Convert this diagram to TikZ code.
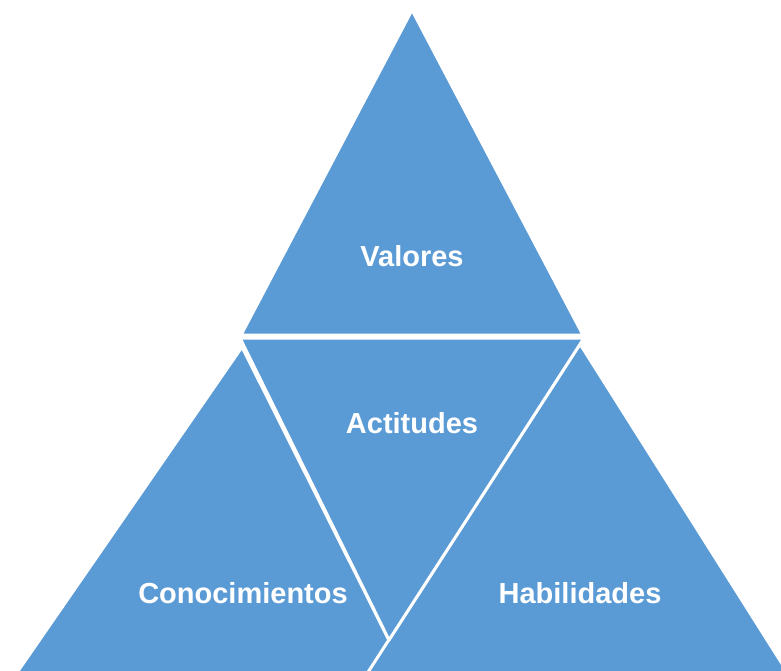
\documentclass[tikz,border=0pt]{standalone}
\usepackage{fontspec}
\setmainfont{Liberation Sans}
\definecolor{segblue}{HTML}{5B9BD5}

\begin{document}
\begin{tikzpicture}[x=1pt,y=-1pt,
    seg/.style={fill=segblue,draw=white,line width=3pt,line join=round},
    lbl/.style={text=white,inner sep=0pt,font=\bfseries\fontsize{29}{34}\selectfont}]
                \useasboundingbox (0,0) rectangle (781,670);
                \clip (0,0) rectangle (781,670);
                % corners of the four triangles
                \coordinate(TopA)at(412, 10);
                \coordinate(TopB)at(241, 335);
                \coordinate(TopC)at(583, 335);
                \coordinate(MidA)at(240, 338);
                \coordinate(MidB)at(584, 338);
                \coordinate(MidC)at(389, 640);
                \coordinate(LeftA)at(242, 347);
                \coordinate(LeftB)at(-2, 700);
                \coordinate(LeftC)at(419, 700);
                \coordinate(RightA)at(580, 344);
                \coordinate(RightB)at(350, 700);
                \coordinate(RightC)at(805, 700);
                \draw[seg] (TopA) -- (TopB) -- (TopC) -- cycle;
                \draw[seg] (LeftA) -- (LeftB) -- (LeftC) -- cycle;
                \draw[seg] (RightA) -- (RightB) -- (RightC) -- cycle;
                \draw[seg] (MidA) -- (MidB) -- (MidC) -- cycle;
                % labels
                \node[lbl](Valores)at(412, 256){Valores};
                \node[lbl](Actitudes)at(412, 423){Actitudes};
                \node[lbl](Conocimientos)at(243, 593){Conocimientos};
                \node[lbl](Habilidades)at(580, 593){Habilidades};
\end{tikzpicture}
\end{document}
